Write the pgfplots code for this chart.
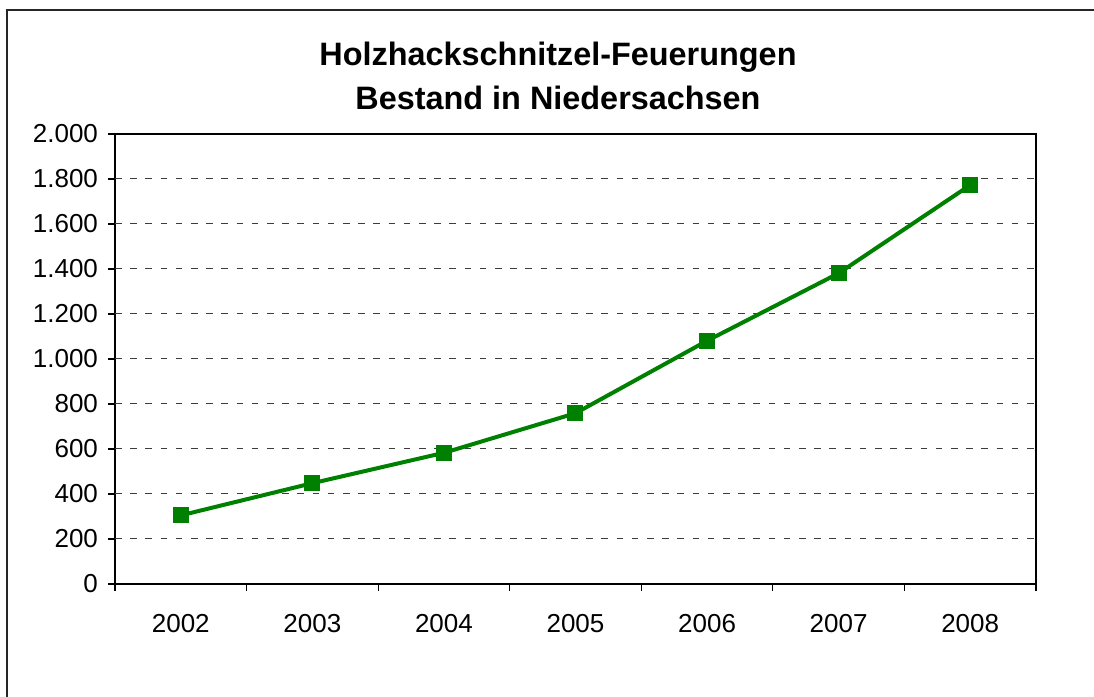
\documentclass[border=0pt]{standalone}
\usepackage{fontspec}
\setmainfont{Liberation Sans}
\usepackage{pgfplots}
\pgfplotsset{compat=1.18}
\definecolor{linegreen}{RGB}{0,128,0}
\definecolor{gridgray}{RGB}{60,60,60}

\begin{document}
\begin{tikzpicture}
% page: 1094x697 px at 0.5pt per px
\path[use as bounding box] (0,0) rectangle (547pt,348.5pt);
\draw[line width=1pt, black!85] (3.5pt,0) -- (3.5pt,343.5pt) -- (547pt,343.5pt);
\node[font=\bfseries\fontsize{16.2}{19}\selectfont] at (279pt,320pt) {Holzhackschnitzel-Feuerungen};
\node[font=\bfseries\fontsize{16.2}{19}\selectfont] at (279pt,299.5pt) {Bestand in Niedersachsen};
\begin{axis}[
    at={(57.5pt,56.5pt)}, anchor=south west,
    scale only axis,
    width=460.5pt, height=225pt,
    xmin=-0.5, xmax=6.5,
    ymin=0, ymax=2000,
    xtick={0,...,6},
    xticklabels={2002,2003,2004,2005,2006,2007,2008},
    major x tick style={draw=none},
    minor xtick={-0.5,0.5,...,6.5},
    ytick={0,200,...,2000},
    xtick pos=bottom, ytick pos=left,
    tick align=outside,
    major tick length=3.5pt,
    minor tick length=3.5pt,
    tick style={black, line width=0.6pt},
    axis line style={black, line width=0.75pt},
    xticklabel style={yshift=-8pt},
    yticklabel style={xshift=-1.5pt},
    ticklabel style={font=\fontsize{13}{15}\selectfont},
    /pgf/number format/.cd, 1000 sep={.}, assume math mode=true,
    /pgfplots/.cd,
    extra y ticks={200,400,...,1800},
    extra y tick labels={},
    extra y tick style={grid=major, major tick length=0pt},
    grid style={gridgray, line width=0.5pt, dash pattern=on 3.3pt off 4.3pt},
]
\addplot[color=linegreen, line width=2pt, mark=square*, mark size=3pt,
    mark options={solid, fill=linegreen}]
    coordinates {
    (0,305)(1,448)(2,583)(3,759)(4,1081)(5,1381)(6,1773)
    };
\end{axis}
\end{tikzpicture}
\end{document}
